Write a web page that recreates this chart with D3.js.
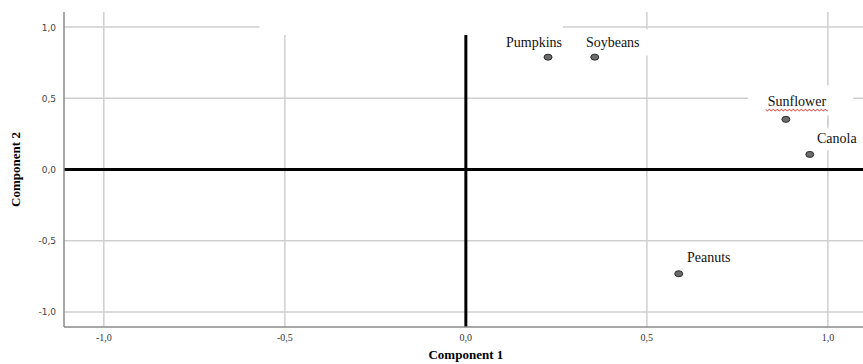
<!DOCTYPE html>
<html><head><meta charset="utf-8">
<script src="https://cdn.jsdelivr.net/npm/d3@7"></script>
<style>body{margin:0;background:#fff;}svg{display:block;}</style>
</head><body>
<svg id="c" width="863" height="364"></svg>
<script>
const names = ["Pumpkins", "Soybeans", "Sunflower", "Canola", "Peanuts"];
const comp1 = [0.227, 0.356, 0.884, 0.950, 0.588];
const comp2 = [0.789, 0.789, 0.352, 0.106, -0.732];
const xTicks = [-1.0, -0.5, 0.0, 0.5, 1.0];
const yTicks = [-1.0, -0.5, 0.0, 0.5, 1.0];

// label placement (pixels relative to point) — layout, not data
const labelOffsets = {
  Pumpkins: [-14, -10], Soybeans: [18, -10], Sunflower: [11, -13],
  Canola: [27, -11], Peanuts: [30, -12]
};

const svg = d3.select("#c");
const x = d3.scaleLinear().domain([-1.11, 1.097]).range([64, 863]);
const y = d3.scaleLinear().domain([-1.106, 1.106]).range([327, 12]);
const fmt = v => d3.format(".1f")(v).replace(".", ",").replace("\u2212", "-");

// gridlines
svg.append("g").selectAll("line").data(xTicks).join("line")
  .attr("x1", d => x(d)).attr("x2", d => x(d))
  .attr("y1", y.range()[1]).attr("y2", y.range()[0])
  .attr("stroke", "#cfcfcf").attr("stroke-width", 1.5);
svg.append("g").selectAll("line").data(yTicks).join("line")
  .attr("x1", x.range()[0]).attr("x2", x.range()[1])
  .attr("y1", d => y(d)).attr("y2", d => y(d))
  .attr("stroke", "#cfcfcf").attr("stroke-width", 1.5);

// zero lines
svg.append("line").attr("x1", x.range()[0]).attr("x2", x.range()[1])
  .attr("y1", y(0)).attr("y2", y(0)).attr("stroke", "#000").attr("stroke-width", 3);
svg.append("line").attr("x1", x(0)).attr("x2", x(0))
  .attr("y1", y.range()[1]).attr("y2", y.range()[0]).attr("stroke", "#000").attr("stroke-width", 3);

// white masks (pasted label boxes in the original), in data units
const masks = [
  [-0.57, 0.268, 1.25, 0.944],
  [0.07, 0.545, 0.985, 0.80],
  [0.78, 1.07, 0.59, 0.36],
  [0.957, 1.11, 0.29, 0.135]
];
svg.append("g").selectAll("rect").data(masks).join("rect")
  .attr("x", d => x(d[0])).attr("y", d => y(d[2]))
  .attr("width", d => x(d[1]) - x(d[0])).attr("height", d => y(d[3]) - y(d[2]))
  .attr("fill", "#fff");
// short dash of the 1.0 gridline visible inside sunflower box
svg.append("line").attr("x1", x(1)).attr("x2", x(1))
  .attr("y1", y(0.38)).attr("y2", y(0.31)).attr("stroke", "#cfcfcf").attr("stroke-width", 1.5);

// axes frame
svg.append("line").attr("x1", x.range()[0]).attr("x2", x.range()[0])
  .attr("y1", y.range()[1]).attr("y2", y.range()[0]).attr("stroke", "#8a8a8a").attr("stroke-width", 1.5);
svg.append("line").attr("x1", x.range()[0]).attr("x2", x.range()[1])
  .attr("y1", y.range()[0]).attr("y2", y.range()[0]).attr("stroke", "#8a8a8a").attr("stroke-width", 1.5);

// tick labels
svg.append("g").selectAll("text").data(xTicks).join("text")
  .attr("x", d => x(d)).attr("y", 341).attr("text-anchor", "middle")
  .attr("font-family", "Liberation Serif, serif").attr("font-size", 10).attr("fill", "#333")
  .text(fmt);
svg.append("g").selectAll("text").data(yTicks).join("text")
  .attr("x", 56).attr("y", d => y(d) + 3.5).attr("text-anchor", "end")
  .attr("font-family", "DejaVu Sans, sans-serif").attr("font-size", 9).attr("fill", "#444")
  .text(fmt);

// axis titles
svg.append("text").attr("x", x(0)).attr("y", 359).attr("text-anchor", "middle")
  .attr("font-family", "Liberation Serif, serif").attr("font-weight", "bold").attr("font-size", 13)
  .text("Component 1");
svg.append("text").attr("transform", `translate(20,${y(0)}) rotate(-90)`).attr("text-anchor", "middle")
  .attr("font-family", "Liberation Serif, serif").attr("font-weight", "bold").attr("font-size", 13)
  .text("Component 2");

// points
const pts = names.map((n, i) => ({ n, c1: comp1[i], c2: comp2[i] }));
svg.append("g").selectAll("ellipse").data(pts).join("ellipse")
  .attr("cx", d => x(d.c1)).attr("cy", d => y(d.c2)).attr("rx", 4).attr("ry", 3)
  .attr("fill", "#6b6b6b").attr("stroke", "#2b2b2b").attr("stroke-width", 1);

// labels
svg.append("g").selectAll("text").data(pts).join("text")
  .attr("x", d => x(d.c1) + labelOffsets[d.n][0]).attr("y", d => y(d.c2) + labelOffsets[d.n][1])
  .attr("text-anchor", "middle")
  .attr("font-family", "Liberation Serif, serif").attr("font-size", 14).attr("fill", "#111")
  .text(d => d.n);

// red spell-check squiggle under Sunflower
const sf = pts.find(d => d.n === "Sunflower");
const sx = x(sf.c1) + labelOffsets.Sunflower[0], sy = y(sf.c2) + labelOffsets.Sunflower[1] + 3;
let p = `M${sx - 31},${sy}`;
for (let i = 0; i < 31; i++) p += ` l1,${i % 2 ? -1.5 : 1.5} l1,0`;
svg.append("path").attr("d", p).attr("fill", "none").attr("stroke", "#e03030").attr("stroke-width", 0.9);
</script>
</body></html>
